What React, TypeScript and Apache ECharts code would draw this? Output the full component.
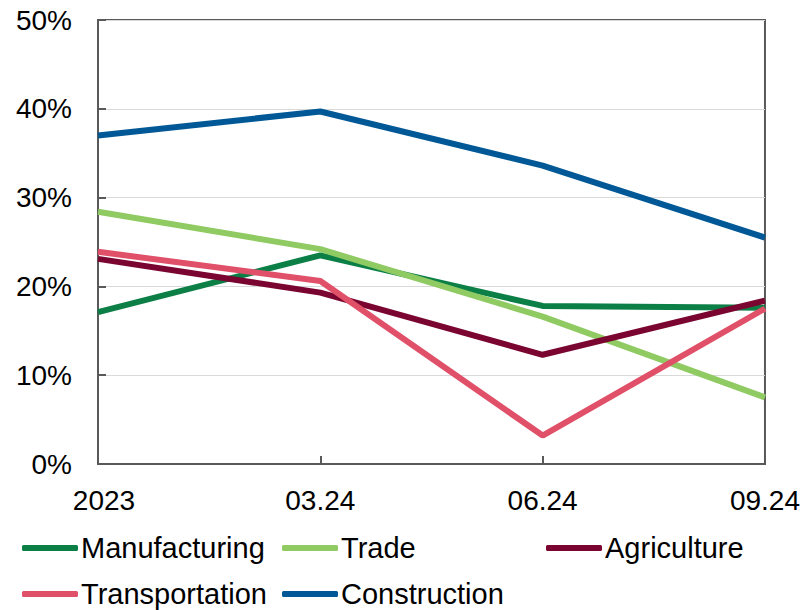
import React, { useEffect, useRef } from "react";
import * as echarts from "echarts";

const categories = ["2023", "03.24", "06.24", "09.24"];
const manufacturing = [17.1, 23.5, 17.8, 17.6];
const trade = [28.4, 24.2, 16.6, 7.5];
const agriculture = [23.1, 19.3, 12.3, 18.4];
const transportation = [23.9, 20.6, 3.2, 17.5];
const construction = [37.0, 39.7, 33.6, 25.5];
const yTicks = [0, 10, 20, 30, 40, 50];

const colors: Record<string, string> = {
  Manufacturing: "#0b7f46",
  Trade: "#8fca62",
  Agriculture: "#7a0530",
  Transportation: "#e05068",
  Construction: "#005896",
};

const FONT = "Liberation Sans, Arial, sans-serif";

export default function App() {
  const ref = useRef<HTMLDivElement>(null);
  useEffect(() => {
    if (!ref.current) return;
    const chart = echarts.init(ref.current, null, { renderer: "svg" });
    const mk = (name: string, data: number[]) => ({
      name,
      type: "line",
      data,
      symbol: "none",
      lineStyle: { width: 6, color: colors[name] },
      itemStyle: { color: colors[name] },
      z: 3,
    });
    const leg = (name: string, left: number, top: number) => ({
      orient: "horizontal",
      icon: "roundRect",
      itemWidth: 56,
      itemHeight: 6,
      padding: 0,
      left,
      top,
      data: [name],
      textStyle: { fontSize: 29, fontFamily: FONT, color: "#000", lineHeight: 30, padding: [0, 0, 0, -2] },
    });
    chart.setOption({
      animation: false,
      backgroundColor: "#fff",
      grid: {
        left: 98,
        right: 36,
        top: 20,
        bottom: 146,
        show: true,
        borderColor: "#595959",
        borderWidth: 2,
        containLabel: false,
      },
      legend: [
        leg("Manufacturing", 22, 533),
        leg("Trade", 282, 533),
        leg("Agriculture", 546, 533),
        leg("Transportation", 22, 579),
        leg("Construction", 282, 579),
      ],
      xAxis: {
        type: "category",
        data: categories,
        boundaryGap: false,
        axisLine: { show: true, lineStyle: { color: "#595959", width: 2 } },
        axisTick: { show: true, inside: true, length: 8, lineStyle: { color: "#595959", width: 2 } },
        axisLabel: {
          fontSize: 28,
          fontFamily: FONT,
          color: "#000",
          margin: 22,
          formatter: (v: string, i: number) => (i === 0 ? `{first|${v}}` : v),
          rich: { first: { fontSize: 28, fontFamily: FONT, color: "#000", padding: [0, 0, 0, 12] } },
        },
        splitLine: { show: false },
      },
      yAxis: {
        type: "value",
        min: yTicks[0],
        max: yTicks[yTicks.length - 1],
        interval: 10,
        axisLine: { show: true, lineStyle: { color: "#595959", width: 2 } },
        axisTick: { show: true, inside: true, length: 8, lineStyle: { color: "#595959", width: 2 } },
        axisLabel: { fontSize: 28, fontFamily: FONT, color: "#000", margin: 26, formatter: "{value}%" },
        splitLine: { show: true, lineStyle: { color: "#d9d9d9", width: 1 } },
      },
      series: [
        mk("Manufacturing", manufacturing),
        mk("Trade", trade),
        mk("Agriculture", agriculture),
        mk("Transportation", transportation),
        mk("Construction", construction),
      ],
    });
    return () => chart.dispose();
  }, []);
  return (
    <div
      ref={ref}
      style={{ position: "fixed", left: 0, top: 0, width: 803, height: 610 }}
    />
  );
}
